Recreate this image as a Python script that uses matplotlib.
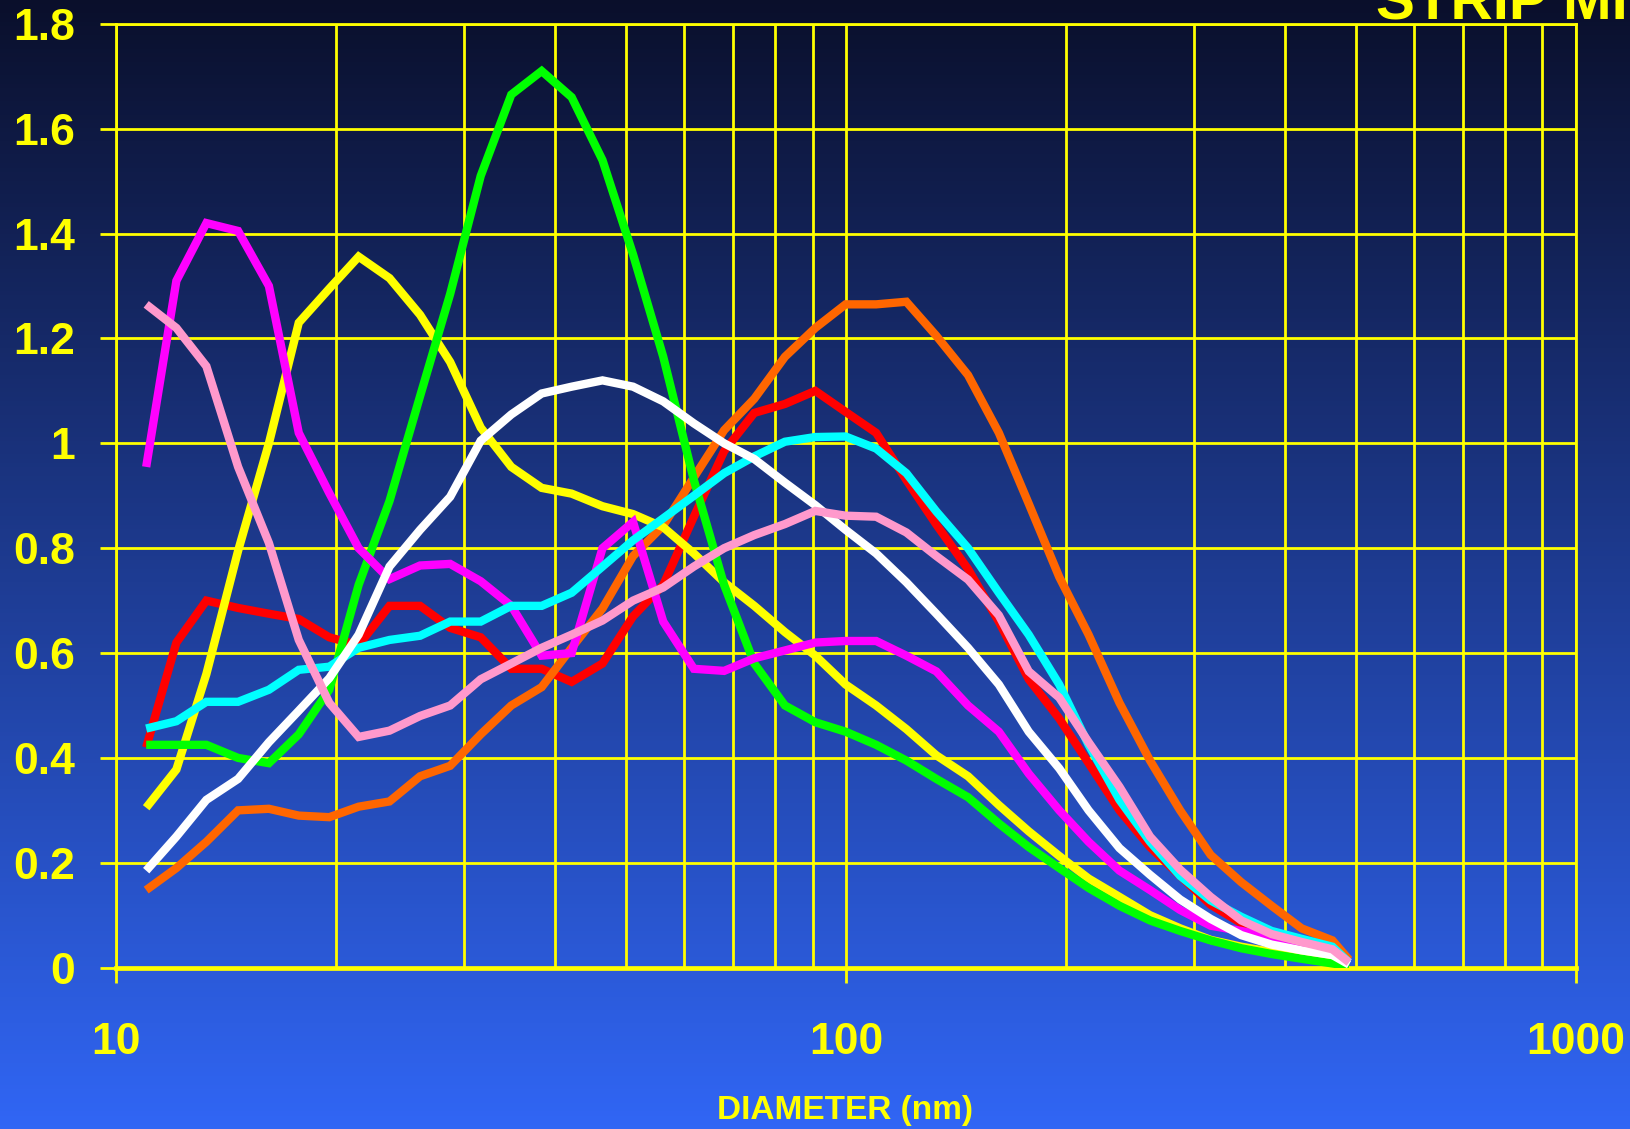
import numpy as np
import matplotlib
matplotlib.use("Agg")
import matplotlib.pyplot as plt
from matplotlib.ticker import FixedLocator, NullFormatter

plt.rcParams['font.family'] = ['Liberation Sans', 'DejaVu Sans']

# particle diameter channels (nm)
diam = [11.0, 12.1, 13.3, 14.7, 16.2, 17.8, 19.6, 21.5, 23.7, 26.1, 28.7,
        31.6, 34.8, 38.3, 42.1, 46.4, 51.1, 56.2, 61.9, 68.1, 74.9, 82.5,
        90.8, 99.9, 110, 121, 133, 147, 162, 178, 196, 215, 237, 261, 287,
        316, 348, 383, 421, 464, 489]

red = [0.42, 0.62, 0.70, 0.686, 0.675, 0.665, 0.63, 0.615, 0.69, 0.69, 0.648,
       0.63, 0.57, 0.57, 0.545, 0.58, 0.67, 0.73, 0.86, 0.985, 1.058, 1.075,
       1.10, 1.06, 1.02, 0.93, 0.845, 0.76, 0.66, 0.55, 0.475, 0.39, 0.30,
       0.23, 0.175, 0.12, 0.085, 0.065, 0.048, 0.035, 0.01]
orange = [0.148, 0.19, 0.24, 0.30, 0.303, 0.29, 0.287, 0.307, 0.317, 0.365,
          0.385, 0.445, 0.50, 0.535, 0.61, 0.685, 0.785, 0.843, 0.935, 1.025,
          1.085, 1.165, 1.22, 1.265, 1.265, 1.27, 1.205, 1.13, 1.02, 0.885,
          0.745, 0.635, 0.505, 0.395, 0.30, 0.215, 0.163, 0.118, 0.075, 0.052,
          0.015]
yellow = [0.305, 0.378, 0.56, 0.795, 1.00, 1.23, 1.295, 1.356, 1.315, 1.245,
          1.155, 1.03, 0.955, 0.915, 0.904, 0.88, 0.865, 0.84, 0.79, 0.735,
          0.69, 0.64, 0.595, 0.54, 0.50, 0.455, 0.405, 0.365, 0.31, 0.26,
          0.213, 0.17, 0.135, 0.10, 0.075, 0.053, 0.04, 0.03, 0.022, 0.012,
          0.006]
green = [0.425, 0.425, 0.425, 0.40, 0.39, 0.445, 0.53, 0.73, 0.89, 1.09,
         1.285, 1.51, 1.665, 1.71, 1.66, 1.54, 1.36, 1.165, 0.93, 0.73, 0.58,
         0.50, 0.468, 0.45, 0.425, 0.395, 0.36, 0.325, 0.275, 0.23, 0.19,
         0.152, 0.118, 0.09, 0.07, 0.052, 0.037, 0.026, 0.017, 0.008, 0.003]
magenta = [0.955, 1.31, 1.42, 1.405, 1.30, 1.02, 0.905, 0.80, 0.741, 0.767,
           0.77, 0.737, 0.69, 0.595, 0.60, 0.80, 0.85, 0.66, 0.57, 0.566,
           0.59, 0.605, 0.62, 0.623, 0.623, 0.595, 0.565, 0.50, 0.45, 0.37,
           0.30, 0.24, 0.185, 0.148, 0.11, 0.08, 0.07, 0.058, 0.045, 0.035,
           0.01]
cyan = [0.456, 0.47, 0.507, 0.507, 0.53, 0.568, 0.574, 0.61, 0.625, 0.633,
        0.66, 0.66, 0.69, 0.69, 0.715, 0.765, 0.815, 0.857, 0.90, 0.943,
        0.975, 1.003, 1.012, 1.013, 0.99, 0.943, 0.87, 0.80, 0.715, 0.635,
        0.54, 0.425, 0.32, 0.24, 0.175, 0.128, 0.097, 0.07, 0.055, 0.04, 0.01]
white = [0.185, 0.25, 0.32, 0.36, 0.43, 0.49, 0.552, 0.635, 0.765, 0.835,
         0.898, 1.005, 1.055, 1.095, 1.108, 1.12, 1.108, 1.08, 1.038, 1.00,
         0.97, 0.925, 0.882, 0.835, 0.79, 0.735, 0.675, 0.61, 0.54, 0.45,
         0.38, 0.30, 0.228, 0.177, 0.13, 0.093, 0.062, 0.044, 0.033, 0.024,
         0.006]
pink = [1.265, 1.22, 1.147, 0.955, 0.81, 0.625, 0.505, 0.44, 0.452, 0.48,
        0.50, 0.55, 0.58, 0.61, 0.635, 0.662, 0.70, 0.725, 0.765, 0.80, 0.825,
        0.846, 0.871, 0.862, 0.86, 0.83, 0.785, 0.74, 0.672, 0.565, 0.515,
        0.43, 0.345, 0.25, 0.187, 0.135, 0.09, 0.064, 0.049, 0.035, 0.01]

series = [(red, '#ff0000'), (orange, '#ff6600'), (yellow, '#ffff00'),
          (green, '#00ff00'), (magenta, '#ff00ff'), (cyan, '#00ffff'),
          (white, '#ffffff'), (pink, '#ff99cc')]

yticks = [0, 0.2, 0.4, 0.6, 0.8, 1.0, 1.2, 1.4, 1.6, 1.8]
ylabels = ['0', '0.2', '0.4', '0.6', '0.8', '1', '1.2', '1.4', '1.6', '1.8']
xticks = [10, 100, 1000]
xlabels = ['10', '100', '1000']

YEL = '#ffff00'

fig = plt.figure(figsize=(16.31, 11.29), dpi=100)

# background gradient, dark navy at top to bright blue at bottom
bg = fig.add_axes([0, 0, 1, 1], zorder=0)
top = np.array([0.04, 0.06, 0.17])
bot = np.array([0.19, 0.40, 0.96])
t = np.linspace(0, 1, 256)[:, None, None]
grad = top + (bot - top) * t
bg.imshow(grad, aspect='auto', extent=[0, 1, 0, 1], origin='upper')
bg.set_axis_off()

ax = fig.add_axes([0.0711, 0.1429, 0.8951, 0.836], zorder=1)
ax.set_facecolor('none')

for vals, col in series:
    ax.plot(diam, vals, color=col, lw=6, solid_joinstyle='miter',
            solid_capstyle='butt', zorder=3)

ax.set_xscale('log')
ax.set_xlim(10, 1000)
ax.set_ylim(0, 1.8)

ax.xaxis.set_major_locator(FixedLocator(xticks))
ax.set_xticklabels(xlabels)
minor = [m * d for d in (10, 100) for m in range(2, 10)]
ax.xaxis.set_minor_locator(FixedLocator(minor))
ax.xaxis.set_minor_formatter(NullFormatter())
ax.set_yticks(yticks)
ax.set_yticklabels(ylabels)

ax.grid(True, which='both', color=YEL, lw=2.0, zorder=1)
ax.set_axisbelow(True)

ax.tick_params(axis='x', which='major', direction='out', length=11,
               width=2.0, color=YEL, pad=28)
ax.tick_params(axis='x', which='minor', length=0)
ax.tick_params(axis='y', direction='out', length=11.5, width=2.0,
               color=YEL, pad=18)
for lab in ax.get_xticklabels() + ax.get_yticklabels():
    lab.set_color(YEL)
    lab.set_fontsize(32)
    lab.set_fontweight('bold')

for side in ('left', 'top', 'right'):
    ax.spines[side].set_color(YEL)
    ax.spines[side].set_linewidth(2.0)
ax.spines['bottom'].set_color(YEL)
ax.spines['bottom'].set_linewidth(3.4)

fig.text(0.518, 0.016, 'DIAMETER (nm)', color=YEL, fontsize=24,
         fontweight='bold', ha='center', va='center')
# title runs off the top-right corner, as in the original slide
fig.text(0.8437, 0.983, 'STRIP MI', color=YEL, fontsize=42,
         fontweight='bold', ha='left', va='baseline')

fig.savefig('out.png', dpi=100)
